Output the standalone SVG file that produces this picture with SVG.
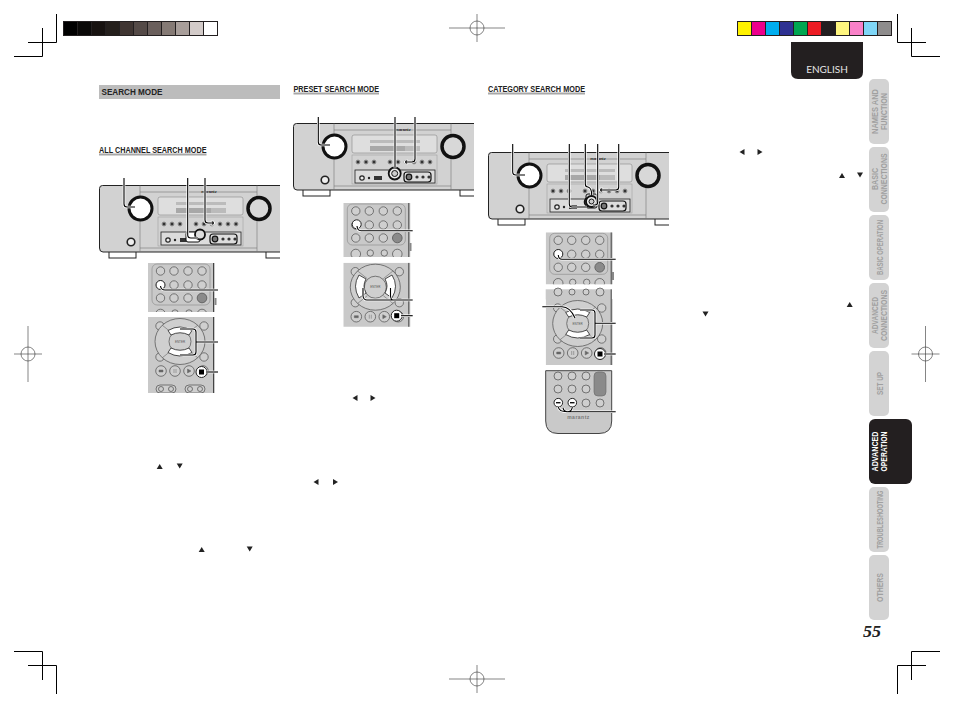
<svg xmlns="http://www.w3.org/2000/svg" width="954" height="708" viewBox="0 0 954 708">
<style>
text{font-family:"Liberation Sans",Arial,sans-serif}
.crop{fill:none;stroke:#000;stroke-width:1}
.reg{fill:none;stroke:#333;stroke-width:.6}
.tab{fill:#d3d3d3}
.tabt{fill:#a0a0a0;font-size:9.2px;font-weight:700;text-anchor:middle}
.head{font-weight:700;font-size:9px;fill:#222}
.ul{fill:#a8a8a8}
.body{fill:#d2d2d2;stroke:#222;stroke-width:1}
.thin{fill:none;stroke:#777;stroke-width:.6}
.rb{fill:#333;stroke:#999;stroke-width:1}
.foot{fill:#fff;stroke:#222;stroke-width:1}
.key{fill:#cfcfcf;stroke:#5c5c5c;stroke-width:.8}
.rem{fill:#c9c9c9}
.edge{stroke:#444;stroke-width:1;fill:none}
.wb{fill:#fff;stroke:#222;stroke-width:1}
.halo{fill:none;stroke:#fff;stroke-width:2.6}
.ink{fill:none;stroke:#000;stroke-width:1.1}
.tiny{font-size:3px;fill:#555;text-anchor:middle}
.tri{fill:#222}
</style>
<defs>
<polygon id="up" points="-3,2.5 3,2.5 0,-2.5"/>
<polygon id="dn" points="-3,-2.5 3,-2.5 0,2.5"/>
<polygon id="lf" points="2.5,-3 2.5,3 -2.5,0"/>
<polygon id="rt" points="-2.5,-3 -2.5,3 2.5,0"/>
<g id="reg"><circle r="7"/><path d="M-28,0H28M0,-14V14"/></g>
<g id="regv"><circle r="7"/><path d="M-14,0H14M0,-28V28"/></g>
<path id="cap" d="M-12,-11 Q0,-18 12,-11 L9,-6.500 Q0,-11 -9,-6.500Z" fill="#fff" stroke="#222" stroke-width=".8"/>
<symbol id="receiver" overflow="hidden" width="181" height="76" viewBox="0 0 181 76">
<rect x="10" y="66" width="27" height="7" class="foot"/>
<rect x="167" y="66" width="20" height="7" class="foot"/>
<path class="body" d="M190,.5H3.500Q.5,.5 .5,3.500V63Q.5,67 4,67H190Z"/>
<path class="thin" d="M41,.5V67M158,.5V67M41,7H158M41,63H158"/>
<text x="110" y="7.500" font-size="4" font-weight="700" text-anchor="middle" fill="#222">marantz</text>
<rect x="59" y="12" width="85" height="18" rx="2" fill="#dedede" stroke="#888" stroke-width=".6"/>
<rect x="77" y="23" width="35" height="5" fill="#a8a8a8"/>
<rect x="112" y="23" width="15" height="5" fill="#bbb"/>
<rect x="77" y="17" width="50" height="3" fill="#bbb"/>
<circle cx="41.500" cy="23.500" r="11.500" fill="#fff" stroke="#111" stroke-width="3"/>
<circle cx="160" cy="23.500" r="11" fill="#d8d8d8" stroke="#111" stroke-width="3.500"/>
<g class="rb"><circle cx="65" cy="39" r="2"/><circle cx="73" cy="39" r="2"/><circle cx="81" cy="39" r="2"/><circle cx="97" cy="39" r="2"/><circle cx="105" cy="39" r="2"/><circle cx="113" cy="39" r="2"/><circle cx="121" cy="39" r="2"/><circle cx="129" cy="39" r="2"/><circle cx="137" cy="39" r="2"/></g>
<rect x="59" y="32" width="85" height="29" fill="none" stroke="#999" stroke-width=".5"/>
<rect x="62" y="47" width="80" height="13" fill="#dcdcdc" stroke="#222" stroke-width=".8"/>
<circle cx="32" cy="57" r="3.800" fill="#eee" stroke="#222" stroke-width="1.600"/>
<circle cx="69" cy="55" r="2.200" fill="#eee" stroke="#222" stroke-width="1.200"/>
<circle cx="76" cy="55" r="1.200" fill="#222"/>
<rect x="81" y="53" width="8" height="4" fill="#333"/>
<circle cx="101" cy="50" r="4.500" fill="#ddd" stroke="#111" stroke-width="1.600"/>
<rect x="111" y="49" width="27" height="10" rx="3" fill="#ddd" stroke="#111" stroke-width="1.200"/>
<circle cx="116" cy="54" r="2.800" fill="#777" stroke="#111" stroke-width="1.200"/>
<circle cx="124" cy="54" r="1.600" fill="#333"/>
<circle cx="130" cy="54" r="1.600" fill="#333"/>
<circle cx="136" cy="54" r="1.600" fill="#333"/>
</symbol>
<symbol id="remkeys" overflow="hidden">
<rect class="rem" width="70" height="60"/>
<rect x="4" y="1" width="58" height="41" rx="5" fill="none" stroke="#888" stroke-width=".6"/>
<g class="key">
<circle cx="12.500" cy="8" r="4.200"/><circle cx="26" cy="8" r="4.200"/><circle cx="40" cy="8" r="4.200"/><circle cx="54" cy="8" r="4.200"/>
<circle cx="12.500" cy="22" r="4.200"/><circle cx="26" cy="22" r="4.200"/><circle cx="40" cy="22" r="4.200"/><circle cx="54" cy="22" r="4.200"/>
<circle cx="12.500" cy="35" r="4.200"/><circle cx="26" cy="35" r="4.200"/><circle cx="40" cy="35" r="4.200"/>
<circle cx="12.500" cy="51" r="4.800"/><circle cx="27" cy="50" r="3.200"/><circle cx="41" cy="50" r="3.200"/><circle cx="54" cy="51" r="4.800"/>
</g>
<circle cx="54" cy="35" r="4.800" fill="#8a8a8a" stroke="#666"/>
<path class="edge" d="M65.500,0V60"/>
</symbol>
<symbol id="remnav" overflow="hidden">
<rect class="rem" width="70" height="90"/>
<g class="key">
<circle cx="12" cy="9" r="4.200"/><circle cx="56" cy="9" r="4.200"/><circle cx="12" cy="40" r="4.200"/><circle cx="56" cy="40" r="4.200"/>
<ellipse cx="32" cy="24.500" rx="25" ry="23"/>
<circle cx="32" cy="24.500" r="11"/>
<circle cx="13" cy="54" r="5.300"/><circle cx="27" cy="54" r="5.300"/><circle cx="41" cy="54" r="5.300"/><circle cx="55" cy="54" r="5.300"/>
<rect x="8" y="68" width="20" height="8" rx="4"/><rect x="37" y="68" width="20" height="8" rx="4"/>
<circle cx="13" cy="72" r="2.500"/><circle cx="23" cy="72" r="2.500"/><circle cx="42" cy="72" r="2.500"/><circle cx="52" cy="72" r="2.500"/>
</g>
<path d="M14,8L24,16M50,8L40,16M14,41L24,33M50,41L40,33" stroke="#666" stroke-width=".6"/>
<text class="tiny" x="32" y="25.500">ENTER</text>
<path d="M11,53H15V55H11ZM26,52V56M28,52V56M39.500,52V56L43,54Z" fill="#666" stroke="#666" stroke-width=".5"/>
<path class="edge" d="M65.500,0V90"/>
</symbol>
<g id="leaders">
<path d="M124,178V204Q124,207 127,207H135"/>
<path d="M187.700,178V235Q187.700,238 191,238H198"/>
<path d="M205,178V220Q205,223 208,223H212"/>
<path d="M218,290H165Q161,290 160.500,286"/>
<path d="M218,342H196M180,329H193Q196,329 196,332V352Q196,355 193,355H180"/>
<path d="M218,372H206"/>
<path d="M318.300,117V142Q318.300,145 321,145H330"/>
<path d="M395,117V168"/>
<path d="M415,117V159Q415,162 412,162H407"/>
<path d="M412.700,230.700H361Q357.500,230.700 357,226"/>
<path d="M412.700,300H393Q391,300 390.500,296V288M393,300H367Q363.500,300 363,296V288"/>
<path d="M412.700,315.700H401"/>
<path d="M512.700,144V172Q512.700,175 516,175H525"/>
<path d="M569.300,144V204Q569.300,207 572,207H586.700"/>
<path d="M585.300,144V184Q585.300,187 588,187Q591.700,188 591.700,195"/>
<path d="M597.700,144V202Q597.700,205 595,205H593"/>
<path d="M618.700,144V187Q618.700,190 616,190H602"/>
<path d="M615.700,259.300H562Q558.500,259.300 558.300,255"/>
<path d="M615.700,323.300H595M580,310H592Q595,310 595,313V335Q595,338 592,338H580"/>
<path d="M542.300,306.700H562Q570,306.700 575,318"/>
<path d="M615.700,354H604"/>
<path d="M615.700,411.700H567Q564,411.700 563,408M567,411.700Q559,411.700 558.300,407M567,411.700Q572,411.700 572.300,407"/>
</g>
</defs>

<g id="print-marks">
<path class="crop" d="M56.500,14V42.500H28M42.500,28V56.500H14M897.500,14V42.500H926M911.500,28V56.500H940M42.500,680V651.500H14M56.500,694V665.500H28M911.500,680V651.500H940M897.500,694V665.500H926"/>
<g class="reg">
<use href="#reg" x="477" y="28"/><use href="#reg" x="477" y="679"/>
<use href="#regv" x="28" y="354"/><use href="#regv" x="925.500" y="354"/>
</g>
<g id="gray-bar" stroke="#231f20" stroke-width="1">
<rect x="63.500" y="21.500" width="14" height="14" fill="#000"/><rect x="77.500" y="21.500" width="14" height="14" fill="#0a0908"/><rect x="91.500" y="21.500" width="14" height="14" fill="#171210"/><rect x="105.500" y="21.500" width="14" height="14" fill="#241f1c"/><rect x="119.500" y="21.500" width="14" height="14" fill="#3f3532"/><rect x="133.500" y="21.500" width="14" height="14" fill="#544a47"/><rect x="147.500" y="21.500" width="14" height="14" fill="#6a5f5c"/><rect x="161.500" y="21.500" width="14" height="14" fill="#857a75"/><rect x="175.500" y="21.500" width="14" height="14" fill="#a89e9a"/><rect x="189.500" y="21.500" width="14" height="14" fill="#d3cbc9"/><rect x="203.500" y="21.500" width="14" height="14" fill="#fff"/>
</g>
<g id="colour-bar" stroke="#231f20" stroke-width="1">
<rect x="737.500" y="21.500" width="14" height="14" fill="#fff200"/><rect x="751.500" y="21.500" width="14" height="14" fill="#ec008c"/><rect x="765.500" y="21.500" width="14" height="14" fill="#00aeef"/><rect x="779.500" y="21.500" width="14" height="14" fill="#2e3192"/><rect x="793.500" y="21.500" width="14" height="14" fill="#00a651"/><rect x="807.500" y="21.500" width="14" height="14" fill="#ed1c24"/><rect x="821.500" y="21.500" width="14" height="14" fill="#231f20"/><rect x="835.500" y="21.500" width="14" height="14" fill="#fff67f"/><rect x="849.500" y="21.500" width="14" height="14" fill="#f981c8"/><rect x="863.500" y="21.500" width="14" height="14" fill="#7fd6f7"/><rect x="877.500" y="21.500" width="14" height="14" fill="#8e8c8c"/>
</g>
</g>

<g id="language">
<path d="M791,42H863V72Q863,79 856,79H798Q791,79 791,72Z" fill="#231f20"/>
<text x="827" y="73" text-anchor="middle" font-size="10" fill="#e6e6e6" style="font-family:Lato,'Liberation Sans',sans-serif">ENGLISH</text>
</g>

<g id="tabs">
<g id="tab-names"><rect class="tab" x="869" y="79" width="20" height="65" rx="5"/><text class="tabt" transform="translate(878.200,111.500) rotate(-90)" textLength="45" lengthAdjust="spacingAndGlyphs">NAMES AND</text><text class="tabt" transform="translate(887,111.500) rotate(-90)" textLength="37" lengthAdjust="spacingAndGlyphs">FUNCTION</text></g>
<g id="tab-basic-conn"><rect class="tab" x="869" y="147" width="20" height="65" rx="5"/><text class="tabt" transform="translate(878.200,179) rotate(-90)" textLength="22" lengthAdjust="spacingAndGlyphs">BASIC</text><text class="tabt" transform="translate(887,179) rotate(-90)" textLength="51" lengthAdjust="spacingAndGlyphs">CONNECTIONS</text></g>
<g id="tab-basic-op"><rect class="tab" x="869" y="215" width="20" height="65" rx="5"/><text class="tabt" transform="translate(882.500,247.500) rotate(-90)" textLength="55" lengthAdjust="spacingAndGlyphs">BASIC OPERATION</text></g>
<g id="tab-adv-conn"><rect class="tab" x="869" y="283" width="20" height="65" rx="5"/><text class="tabt" transform="translate(878.200,315.500) rotate(-90)" textLength="37" lengthAdjust="spacingAndGlyphs">ADVANCED</text><text class="tabt" transform="translate(887,315.500) rotate(-90)" textLength="51" lengthAdjust="spacingAndGlyphs">CONNECTIONS</text></g>
<g id="tab-setup"><rect class="tab" x="869" y="351" width="20" height="65" rx="5"/><text class="tabt" transform="translate(882.500,383.500) rotate(-90)" textLength="23" lengthAdjust="spacingAndGlyphs">SET UP</text></g>
<g id="tab-adv-op"><rect x="869" y="419" width="43" height="65" rx="6" fill="#231f20"/><text class="tabt" style="fill:#fff" transform="translate(878.200,451.500) rotate(-90)" textLength="40" lengthAdjust="spacingAndGlyphs">ADVANCED</text><text class="tabt" style="fill:#fff" transform="translate(887,451.500) rotate(-90)" textLength="40" lengthAdjust="spacingAndGlyphs">OPERATION</text></g>
<g id="tab-trouble"><rect class="tab" x="869" y="487" width="20" height="65" rx="5"/><text class="tabt" transform="translate(882.500,519.500) rotate(-90)" textLength="58" lengthAdjust="spacingAndGlyphs">TROUBLESHOOTING</text></g>
<g id="tab-others"><rect class="tab" x="869" y="555" width="20" height="65" rx="5"/><text class="tabt" transform="translate(882.500,587.500) rotate(-90)" textLength="29" lengthAdjust="spacingAndGlyphs">OTHERS</text></g>
</g>
<text id="page-no" x="863" y="637" font-size="17" font-weight="700" font-style="italic" textLength="18" lengthAdjust="spacingAndGlyphs" fill="#222" style="font-family:'Liberation Serif',serif">55</text>

<g id="headings">
<rect x="99" y="85" width="181" height="14" fill="#bcbcbc"/>
<text class="head" x="101.500" y="95" style="font-size:9.500px" textLength="61" lengthAdjust="spacingAndGlyphs">SEARCH MODE</text>
<rect class="ul" x="99" y="153.500" width="107.500" height="2"/>
<text class="head" x="99" y="153" textLength="107.500" lengthAdjust="spacingAndGlyphs">ALL CHANNEL SEARCH MODE</text>
<rect class="ul" x="293.500" y="92.500" width="85.500" height="2"/>
<text class="head" x="293.500" y="92" textLength="85.500" lengthAdjust="spacingAndGlyphs">PRESET SEARCH MODE</text>
<rect class="ul" x="488" y="92.500" width="97" height="2"/>
<text class="head" x="488" y="92" textLength="97" lengthAdjust="spacingAndGlyphs">CATEGORY SEARCH MODE</text>
</g>

<g id="all-channel">
<use href="#receiver" x="99" y="185" width="181" height="76"/>
<rect x="186" y="232" width="14" height="10" rx="2" fill="#fff" stroke="#111"/>
<circle cx="200" cy="234.500" r="5" fill="#ddd" stroke="#111" stroke-width="1.800"/>
<circle cx="212.500" cy="223" r="2.200" fill="#333" stroke="#fff"/>
<use href="#remkeys" x="148" y="263" width="67" height="49"/>
<rect x="214.500" y="298" width="2" height="7" fill="#888"/>
<circle cx="160.500" cy="285" r="4.500" class="wb"/>
<use href="#remnav" x="148" y="317" width="67" height="76"/>
<use href="#cap" x="180" y="341.500"/>
<use href="#cap" transform="translate(180,341.500) scale(1,-1)"/>
<circle cx="201.500" cy="372" r="5.500" class="wb"/>
<rect x="199" y="369.500" width="5" height="5" fill="#000"/>
</g>

<g id="preset">
<use href="#receiver" x="293" y="123" width="181" height="76"/>
<circle cx="394.700" cy="173.500" r="6" fill="#eee" stroke="#111" stroke-width="1.800"/>
<circle cx="394.700" cy="173.500" r="3" fill="#ccc" stroke="#111"/>
<circle cx="406.500" cy="162" r="2.200" fill="#333" stroke="#fff"/>
<use href="#remkeys" x="343.300" y="203" width="67" height="54"/>
<rect x="409.500" y="243" width="2" height="8" fill="#888"/>
<circle cx="356.700" cy="224.300" r="4.500" class="wb"/>
<use href="#remnav" x="343.300" y="262.700" width="67" height="64"/>
<path d="M359,275Q352,286 359,298L366,293Q362,286 366,279Z" fill="#fff" stroke="#222" stroke-width=".8"/>
<path d="M392,275Q399,286 392,298L385,293Q389,286 385,279Z" fill="#fff" stroke="#222" stroke-width=".8"/>
<circle cx="396.700" cy="315.700" r="5.500" class="wb"/>
<rect x="394.200" y="313.200" width="5" height="5" fill="#000"/>
</g>

<g id="category">
<use href="#receiver" x="488" y="152" width="181" height="76"/>
<circle cx="591.500" cy="201.500" r="5.500" fill="#eee" stroke="#111" stroke-width="1.800"/>
<circle cx="591.500" cy="201.500" r="2.500" fill="#ccc" stroke="#111"/>
<rect x="586" y="194" width="11" height="14" rx="2" fill="none" stroke="#111"/>
<circle cx="601.500" cy="190" r="2.200" fill="#333" stroke="#fff"/>
<use href="#remkeys" x="545.700" y="232.300" width="67" height="52"/>
<rect x="612" y="272" width="2" height="8" fill="#888"/>
<circle cx="558.300" cy="254" r="4.500" class="wb"/>
<rect class="rem" x="545.700" y="289.300" width="66" height="10"/>
<path class="edge" d="M611.200,289.300V299.300"/>
<g id="cat-top-row" class="key"><circle cx="558" cy="292" r="4"/><circle cx="572" cy="292" r="3"/><circle cx="586" cy="292" r="3"/><circle cx="600" cy="292" r="4"/></g>
<use href="#remnav" x="545.700" y="299" width="67" height="66"/>
<use href="#cap" x="577.700" y="323.500"/>
<use href="#cap" transform="translate(577.700,323.500) scale(1,-1)"/>
<circle cx="600" cy="354" r="5.500" class="wb"/>
<rect x="597.500" y="351.500" width="5" height="5" fill="#000"/>
<path d="M545.700,370.700H611.700V421Q611.700,433.500 599,433.500H558Q545.700,433.500 545.700,421Z" fill="#c9c9c9" stroke="#444"/>
<g class="key">
<circle cx="558" cy="376" r="4"/><circle cx="572" cy="376" r="4"/><circle cx="586" cy="376" r="4"/>
<circle cx="558" cy="389" r="4"/><circle cx="572" cy="389" r="4"/><circle cx="586" cy="389" r="4"/>
<circle cx="586" cy="403" r="4"/><circle cx="600" cy="403" r="4"/>
</g>
<rect x="594" y="372" width="12" height="24" rx="4" fill="#8a8a8a" stroke="#666" stroke-width=".6"/>
<circle cx="558.300" cy="402.700" r="4.300" class="wb"/>
<circle cx="572.300" cy="402.700" r="4.300" class="wb"/>
<rect x="556" y="402" width="4.500" height="1.400" fill="#111"/>
<rect x="570" y="402" width="4.500" height="1.400" fill="#111"/>
<text x="578.500" y="419" font-size="5" font-weight="700" text-anchor="middle" fill="#777" letter-spacing=".5">marantz</text>
</g>

<g id="connectors">
<use href="#leaders" class="halo"/>
<use href="#leaders" class="ink"/>
</g>

<g id="triangles" class="tri">
<use href="#up" x="159.700" y="466.500"/><use href="#dn" x="179.700" y="466"/>
<use href="#lf" x="316" y="482"/><use href="#rt" x="335.500" y="482"/>
<use href="#up" x="201.700" y="549.500"/><use href="#dn" x="249.700" y="549"/>
<use href="#lf" x="355" y="398"/><use href="#rt" x="373" y="398"/>
<use href="#lf" x="742" y="152"/><use href="#rt" x="760" y="152"/>
<use href="#up" x="842" y="175.500"/><use href="#dn" x="860" y="175"/>
<use href="#up" x="849.700" y="304.500"/><use href="#dn" x="705.500" y="314"/>
</g>
</svg>
